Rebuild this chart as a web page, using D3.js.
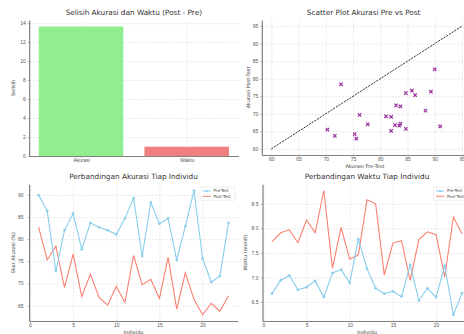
<!DOCTYPE html>
<html>
<head>
<meta charset="utf-8">
<script src="https://cdn.jsdelivr.net/npm/d3@7"></script>
<style>
  body { margin: 0; background: #fff; }
  svg { display: block; font-family: "DejaVu Sans", sans-serif; }
  .grid line { stroke: #d9d9d9; stroke-dasharray: 2,1.5; stroke-width: 0.6; }
  .grid path { display: none; }
  .axis path { stroke: #808080; stroke-width: 1.2; }
  .axis line { stroke: #808080; stroke-width: 0.6; }
  .axis text { fill: #555; font-size: 5px; }
  .title { fill: #333; font-size: 7.3px; text-anchor: middle; }
  .label { fill: #444; font-size: 5px; text-anchor: middle; }
  .legend text { fill: #444; font-size: 4px; }
</style>
</head>
<body>
<div id="chart"></div>
<script>
// bar chart: mean difference
const diffCategories = ["Akurasi", "Waktu"];
const diffValues = [13.65, 0.98];

// individuals
const individu = d3.range(1, 24);
const akurasiPre = [90.0, 86.4, 72.8, 82.0, 85.8, 77.7, 83.7, 82.7, 82.0, 81.05, 84.7, 89.3, 76.2, 88.3, 83.5, 84.7, 75.3, 82.9, 91.0, 75.6, 70.3, 71.65, 83.7];
const akurasiPost = [82.7, 75.3, 78.4, 69.1, 76.6, 67.0, 72.1, 66.8, 65.1, 69.3, 65.7, 76.3, 69.7, 70.9, 66.6, 75.9, 64.2, 72.4, 66.4, 62.9, 65.5, 63.7, 67.2];
const waktuPre = [6.67, 6.94, 7.04, 6.75, 6.80, 6.93, 6.60, 7.09, 7.16, 6.89, 7.78, 7.18, 6.78, 6.67, 6.72, 6.61, 7.26, 6.53, 6.78, 6.60, 7.24, 6.24, 6.68];
const waktuPost = [7.73, 7.91, 7.97, 7.71, 8.17, 7.91, 8.77, 7.19, 8.02, 7.37, 7.46, 8.58, 8.50, 7.05, 7.70, 7.75, 6.94, 7.77, 7.93, 7.87, 7.01, 8.23, 7.89];

const yTicksDiff = [0, 2, 4, 6, 8, 10, 12, 14];
const scatterTicks = [60, 65, 70, 75, 80, 85, 90, 95];
const individuTicks = [0, 5, 10, 15, 20];
const akurasiTicks = [65, 70, 75, 80, 85, 90];
const waktuTicks = [6.5, 7.0, 7.5, 8.0, 8.5];

const colors = {pre: "#87ceeb", post: "#fa8072", akurasi: "#90ee90", waktu: "#f08080", scatter: "#9b30a0"};

const W = 464, H = 334;
const svg = d3.select("#chart").append("svg").attr("width", W).attr("height", H);

// panel boxes in pixels
const panels = {
    tl: {left: 29.2, right: 238.5, top: 20, bottom: 156},
    tr: {left: 261.8, right: 471.5, top: 20, bottom: 155},
    bl: {left: 29.1, right: 238, top: 184.3, bottom: 321},
    br: {left: 262.5, right: 471.5, top: 184.3, bottom: 321}
};

function padded(lo, hi) {
    const m = (hi - lo) * 0.05;
    return [lo - m, hi + m];
}

function drawFrame(p, x, y, xTicks, yTicks) {
    const g = svg.append("g");
    g.append("g").attr("class", "grid")
        .attr("transform", `translate(0,${p.bottom})`)
        .call(d3.axisBottom(x).tickValues(xTicks).tickSize(-(p.bottom - p.top)).tickFormat(""));
    g.append("g").attr("class", "grid")
        .attr("transform", `translate(${p.left},0)`)
        .call(d3.axisLeft(y).tickValues(yTicks).tickSize(-(p.right - p.left)).tickFormat(""));
    return g;
}

function drawAxes(p, x, y, xTicks, yTicks, xFmt, yFmt, yPad) {
    const g = svg.append("g");
    g.append("g").attr("class", "axis")
        .attr("transform", `translate(0,${p.bottom})`)
        .call(d3.axisBottom(x).tickValues(xTicks).tickSize(1.5).tickSizeOuter(0).tickPadding(1).tickFormat(xFmt));
    g.append("g").attr("class", "axis")
        .attr("transform", `translate(${p.left},0)`)
        .call(d3.axisLeft(y).tickValues(yTicks).tickSize(1.5).tickSizeOuter(0).tickPadding(yPad || 2).tickFormat(yFmt));
}

function titles(p, title, xl, yl, ylx) {
    const cx = (p.left + p.right) / 2;
    svg.append("text").attr("class", "title").attr("x", cx).attr("y", p.top - 5).text(title);
    svg.append("text").attr("class", "label").attr("x", cx).attr("y", p.bottom + 13).text(xl);
    svg.append("text").attr("class", "label")
        .attr("transform", `translate(${ylx},${(p.top + p.bottom) / 2}) rotate(-90)`)
        .text(yl);
}

// ---------- top-left: bar chart ----------
{
    const p = panels.tl;
    const x = d3.scaleLinear().domain(padded(-0.4, 1.4)).range([p.left, p.right]);
    const y = d3.scaleLinear().domain([0, 14.33]).range([p.bottom, p.top]);
    drawFrame(p, x, y, [0, 1], yTicksDiff);
    svg.append("g").selectAll("rect").data(diffValues).join("rect")
        .attr("x", (d, i) => x(i - 0.4))
        .attr("width", (d, i) => x(i + 0.4) - x(i - 0.4))
        .attr("y", d => y(d))
        .attr("height", d => y(0) - y(d))
        .attr("fill", (d, i) => i === 0 ? colors.akurasi : colors.waktu);
    drawAxes(p, x, y, [0, 1], yTicksDiff, i => diffCategories[i], d3.format("d"));
    titles(p, "Selisih Akurasi dan Waktu (Post - Pre)", "", "Selisih", 15);
}

// ---------- top-right: scatter ----------
{
    const p = panels.tr;
    const x = d3.scaleLinear().domain(padded(60, 95)).range([p.left, p.right]);
    const y = d3.scaleLinear().domain(padded(60, 95)).range([p.bottom, p.top]);
    drawFrame(p, x, y, scatterTicks, scatterTicks);
    svg.append("line")
        .attr("x1", x(60)).attr("y1", y(60)).attr("x2", x(95)).attr("y2", y(95))
        .attr("stroke", "#333").attr("stroke-width", 1).attr("stroke-dasharray", "2.2,1");
    const pts = akurasiPre.map((d, i) => [d, akurasiPost[i]]);
    const s = 1.7;
    svg.append("g").selectAll("path").data(pts).join("path")
        .attr("d", d => `M${x(d[0]) - s},${y(d[1]) - s}L${x(d[0]) + s},${y(d[1]) + s}M${x(d[0]) - s},${y(d[1]) + s}L${x(d[0]) + s},${y(d[1]) - s}`)
        .attr("stroke", colors.scatter).attr("stroke-width", 1.2);
    drawAxes(p, x, y, scatterTicks, scatterTicks, d3.format("d"), d3.format("d"));
    svg.append("text").attr("class", "title").attr("x", (p.left + p.right) / 2 - 3).attr("y", p.top - 5).text("Scatter Plot Akurasi Pre vs Post");
    svg.append("text").attr("class", "label").attr("x", 365).attr("y", p.bottom + 12.5).text("Akurasi Pre-Test");
    svg.append("text").attr("class", "label")
        .attr("transform", `translate(250,${(p.top + p.bottom) / 2}) rotate(-90)`).text("Akurasi Post-Test");
}

// ---------- line charts ----------
function lineChart(p, pre, post, yTicks, yFmt, title, ylab, ylx, yPad) {
    const x = d3.scaleLinear().domain(padded(1, 23)).range([p.left, p.right]);
    const all = pre.concat(post);
    const y = d3.scaleLinear().domain(padded(d3.min(all), d3.max(all))).range([p.bottom, p.top]);
    drawFrame(p, x, y, individuTicks, yTicks);
    const line = d3.line().x((d, i) => x(individu[i])).y(d => y(d));
    svg.append("path").datum(post).attr("d", line)
        .attr("fill", "none").attr("stroke", colors.post).attr("stroke-width", 1.1);
    svg.append("path").datum(pre).attr("d", line)
        .attr("fill", "none").attr("stroke", colors.pre).attr("stroke-width", 1.1);
    svg.append("g").selectAll("circle").data(pre).join("circle")
        .attr("cx", (d, i) => x(individu[i])).attr("cy", d => y(d)).attr("r", 1.3)
        .attr("fill", colors.pre);
    drawAxes(p, x, y, individuTicks, yTicks, d3.format("d"), yFmt, yPad);
    titles(p, title, "Individu", ylab, ylx);

    // legend
    const lg = svg.append("g").attr("class", "legend")
        .attr("transform", `translate(${p.right - 38},${p.top + 3})`);
    lg.append("rect").attr("width", 35).attr("height", 13).attr("rx", 1)
        .attr("fill", "#fff").attr("fill-opacity", 0.8).attr("stroke", "#ddd").attr("stroke-width", 0.5);
    [["Pre-Test", colors.pre], ["Post-Test", colors.post]].forEach((e, i) => {
        const yy = 3.7 + i * 5.3;
        lg.append("line").attr("x1", 2.5).attr("x2", 11).attr("y1", yy).attr("y2", yy)
            .attr("stroke", e[1]).attr("stroke-width", 1);
        if (i === 0) lg.append("circle").attr("cx", 6.7).attr("cy", yy).attr("r", 1).attr("fill", e[1]);
        lg.append("text").attr("x", 13.5).attr("y", yy + 1.4).text(e[0]);
    });
}

lineChart(panels.bl, akurasiPre, akurasiPost, akurasiTicks, d3.format("d"),
    "Perbandingan Akurasi Tiap Individu", "Skor Akurasi (%)", 15, 4);
lineChart(panels.br, waktuPre, waktuPost, waktuTicks, d3.format(".1f"),
    "Perbandingan Waktu Tiap Individu", "Waktu (menit)", 247, 2.5);
</script>
</body>
</html>
